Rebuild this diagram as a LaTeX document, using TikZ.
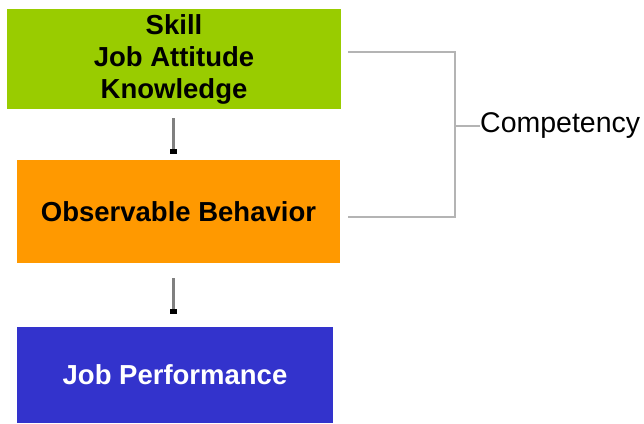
\documentclass[tikz,border=0pt]{standalone}
\usepackage{fontspec}
\setmainfont{Liberation Sans}
\usetikzlibrary{arrows.meta}
\definecolor{cgreen}{HTML}{99CC00}
\definecolor{corange}{HTML}{FF9900}
\definecolor{cblue}{HTML}{3333CC}
\definecolor{cline}{HTML}{B4B4B4}
\tikzset{
  box/.style={rectangle, inner sep=0pt, align=center, font=\fontsize{27.5}{32}\selectfont\bfseries},
  flow/.style={draw=gray, line width=3pt, -{Rectangle[black,length=5pt,width=7pt]}, shorten >=0pt},
  brk/.style={draw=cline, line width=2pt},
}
\begin{document}
\begin{tikzpicture}[x=1pt,y=-1pt]
\useasboundingbox (0,0) rectangle (644,423);
\node[box, fill=cgreen, minimum width=334pt, minimum height=100pt] (kas) at (174,59) {Skill\\Job Attitude\\Knowledge};
\node[box, fill=corange, minimum width=323pt, minimum height=103pt] (ob) at (178.5,211.5) {Observable Behavior};
\node[box, fill=cblue, text=white, minimum width=316pt, minimum height=96pt] (jp) at (175,375) {\raisebox{-4pt}{Job Performance}};
\node[anchor=west, inner sep=0pt, font=\fontsize{28.5}{30}\selectfont] (comp) at (480,126) {Competency};
\coordinate (a1s) at (173,118);
\coordinate (a1e) at (173,154);
\coordinate (a2s) at (173,278);
\coordinate (a2e) at (173,314);
\draw[flow] (a1s) -- (a1e);
\draw[flow] (a2s) -- (a2e);
\coordinate (bt) at (348,52);
\coordinate (bb) at (348,217);
\coordinate (bm) at (455,126);
\draw[brk] (bt) -| (bm) |- (bb);
\draw[brk] (bm) -- (comp.west);
\end{tikzpicture}
\end{document}
